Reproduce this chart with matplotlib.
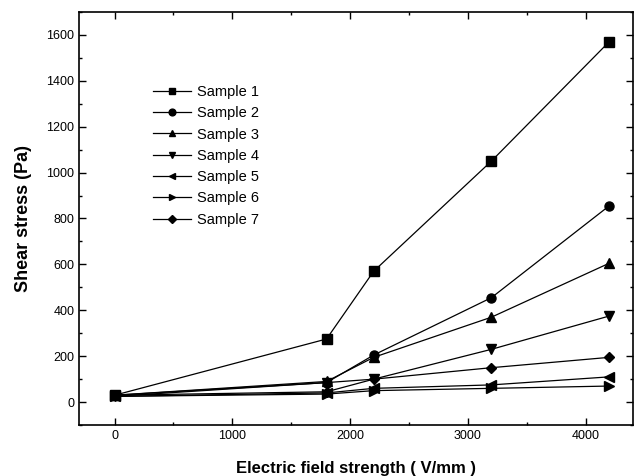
import matplotlib
matplotlib.use("Agg")
import matplotlib.pyplot as plt
from matplotlib.ticker import MultipleLocator

plt.rcParams['font.family'] = ['Liberation Sans', 'DejaVu Sans']

# Electric field strength (V/mm) vs shear stress (Pa)
field = [0, 1800, 2200, 3200, 4200]
sample1 = [30, 275, 570, 1050, 1570]
sample2 = [30, 85, 205, 455, 855]
sample3 = [30, 90, 195, 370, 605]
sample4 = [25, 85, 100, 230, 375]
sample5 = [25, 40, 60, 75, 110]
sample6 = [25, 35, 50, 60, 70]
sample7 = [30, 45, 100, 150, 195]

series = [sample1, sample2, sample3, sample4, sample5, sample6, sample7]
labels = ['Sample 1', 'Sample 2', 'Sample 3', 'Sample 4',
          'Sample 5', 'Sample 6', 'Sample 7']
markers = ['s', 'o', '^', 'v', '<', '>', 'D']

fig = plt.figure(figsize=(6.34, 4.76), dpi=100)
ax = fig.add_axes([0.125, 0.107, 0.873, 0.868])

for ys, lab, m in zip(series, labels, markers):
    ax.plot(field, ys, color='black', lw=0.9, marker=m,
            markersize=6.5 if m != 'D' else 5.5, label=lab)

ax.set_xlim(-300, 4400)
ax.set_ylim(-100, 1700)
ax.xaxis.set_major_locator(MultipleLocator(1000))
ax.xaxis.set_minor_locator(MultipleLocator(500))
ax.yaxis.set_major_locator(MultipleLocator(200))
ax.yaxis.set_minor_locator(MultipleLocator(100))
ax.tick_params(which='both', direction='in', top=True, right=True,
               labelsize=9, width=1)
ax.tick_params(which='major', length=5)
ax.tick_params(which='minor', length=2.5)
for s in ax.spines.values():
    s.set_linewidth(1.2)

ax.set_xlabel('Electric field strength ( V/mm )', fontsize=12,
              fontweight='bold', labelpad=14)
ax.set_ylabel('Shear stress (Pa)', fontsize=13, fontweight='bold',
              labelpad=10)

leg = ax.legend(loc='upper left', bbox_to_anchor=(0.11, 0.855), frameon=False,
                fontsize=10.5, handlelength=2.6, labelspacing=0.5,
                handletextpad=0.4, markerscale=0.75)

fig.savefig('out.png', dpi=100)
